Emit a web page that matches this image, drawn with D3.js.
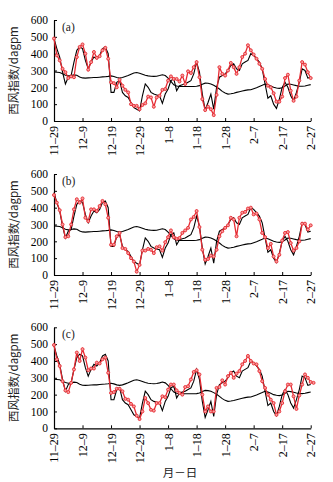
<!DOCTYPE html>
<html><head><meta charset="utf-8">
<script src="https://cdn.jsdelivr.net/npm/d3@7"></script>
<style>body{margin:0;background:#fff}svg{display:block}</style>
</head><body>
<svg id="c" width="333" height="482"></svg>
<script>
const tickLabels = ["11–29","12–9","12–19","12–29","1–8","1–18","1–28","2–7","2–17","2–27"];
const tickDays = [0,10,20,30,40,50,60,70,80,90];
const yTicks = [0,100,200,300,400,500,600];
const panelLabels = ["(a)","(b)","(c)"];

const observed = [490,430,380,290,220,260,270,350,420,440,430,360,310,350,380,370,390,430,440,400,
 170,170,230,240,170,150,140,110,80,70,60,150,220,200,170,160,155,150,105,160,
 190,240,250,180,210,215,220,230,240,280,350,290,160,65,110,160,70,200,260,270,
 280,300,330,340,310,300,340,350,360,400,390,370,350,310,220,135,150,100,75,130,
 200,230,200,150,120,170,230,310,300,255,260];

const climatology = [292,290,288,280,272,268,270,274,272,262,256,255,256,257,258,258,260,262,263,265,
 268,264,258,255,258,264,270,278,285,288,284,278,272,268,266,265,266,270,275,270,
 255,235,215,208,205,205,205,205,205,205,206,210,218,225,224,220,212,202,190,176,
 166,160,162,165,170,174,178,182,185,186,192,198,205,212,220,215,208,200,196,194,
 198,208,220,218,214,210,207,206,208,212,216];

const modelA = [490,390,360,310,290,255,265,260,380,440,455,400,305,350,410,375,385,420,435,370,
 230,225,200,245,210,185,170,100,90,90,70,95,105,145,140,85,140,150,185,190,
 240,265,250,250,235,270,220,295,285,320,350,260,130,65,85,70,35,155,320,280,
 270,300,345,320,280,320,380,400,450,420,395,370,340,310,250,210,200,165,115,115,
 145,255,275,180,120,145,240,350,335,290,255];

const modelB = [475,430,385,300,225,230,300,390,450,430,455,340,320,390,390,380,410,440,420,340,
 180,180,230,250,160,155,130,100,80,20,60,145,145,155,150,130,165,170,145,195,
 225,265,225,215,220,250,265,280,330,345,380,285,150,90,95,115,110,150,230,260,
 280,295,340,330,230,340,370,375,395,400,360,365,330,250,225,160,185,110,80,120,
 205,250,255,190,145,160,200,305,305,270,295];

const modelC = [495,410,370,280,225,215,270,350,450,400,470,420,345,355,355,390,385,410,420,330,
 210,215,235,235,220,175,170,145,130,75,55,100,180,150,110,105,150,150,190,185,
 230,260,260,225,210,200,245,250,290,335,345,320,200,100,130,100,100,240,245,285,
 260,310,330,300,325,340,380,400,430,400,385,380,340,280,240,200,170,150,80,100,
 150,220,260,260,190,115,195,260,320,300,275,270];

const models = [modelA, modelB, modelC];

const svg = d3.select("#c");
const FONT = "'Liberation Serif','Times New Roman',serif";
const x0 = 54, x1 = 310.7;
const tops = [20,174,327.3];
const H = 101;
const red = "#e62a32";

const x = d3.scaleLinear().domain([0,90]).range([x0,x1]);

tops.forEach((top,i)=>{
  const y = d3.scaleLinear().domain([0,600]).range([top+H, top]);
  const g = svg.append("g");
  const xa = g.append("g").attr("transform",`translate(0,${top+H})`)
    .call(d3.axisBottom(x).tickValues(tickDays).tickSizeInner(-3).tickSizeOuter(0).tickFormat((d,k)=>tickLabels[k]));
  xa.select(".domain").attr("stroke","#000").attr("stroke-width",1.2);
  xa.selectAll(".tick line").attr("stroke","#000");
  xa.selectAll("text").attr("font-family",FONT).attr("font-size",12).attr("fill","#000")
    .attr("transform","rotate(-90)").attr("text-anchor","end")
    .attr("x",-5).attr("y",0).attr("dy","0.33em");
  const ya = g.append("g").attr("transform",`translate(${x0},0)`)
    .call(d3.axisLeft(y).tickValues(yTicks).tickSizeInner(-3).tickSizeOuter(0));
  ya.select(".domain").attr("stroke","#000").attr("stroke-width",1.2);
  ya.selectAll(".tick line").attr("stroke","#000");
  ya.selectAll("text").attr("font-family",FONT).attr("font-size",11.5).attr("fill","#000").attr("x",-6);

  g.append("text").attr("transform",`translate(14,${top+H/2}) rotate(-90)`)
    .attr("text-anchor","middle").attr("dy","0.35em")
    .attr("font-family","'Noto Sans CJK SC',"+FONT).attr("font-size",11.5).attr("fill","#222")
    .text("西风指数/dagpm");
  g.append("text").attr("x",62).attr("y",top+11).attr("font-family",FONT).attr("font-size",11.5)
    .attr("fill","#222").text(panelLabels[i]);

  const line = d3.line().x((d,k)=>x(k)).y(d=>y(d));
  g.append("path").datum(climatology).attr("d",line).attr("fill","none").attr("stroke","#000").attr("stroke-width",1.1);
  g.append("path").datum(observed).attr("d",line).attr("fill","none").attr("stroke","#000").attr("stroke-width",1.1);
  const m = models[i];
  g.append("path").datum(m).attr("d",line).attr("fill","none").attr("stroke",red).attr("stroke-width",1.3);
  g.selectAll("circle.m").data(m).join("circle").attr("class","m")
    .attr("cx",(d,k)=>x(k)).attr("cy",d=>y(d)).attr("r",1.5)
    .attr("fill","#f7a0a0").attr("stroke",red).attr("stroke-width",0.9);
});

svg.append("text").attr("x",180).attr("y",477).attr("text-anchor","middle")
  .attr("font-family","'Noto Sans CJK SC',"+FONT).attr("font-size",11.5).attr("fill","#222").text("月－日");
</script>
</body></html>
